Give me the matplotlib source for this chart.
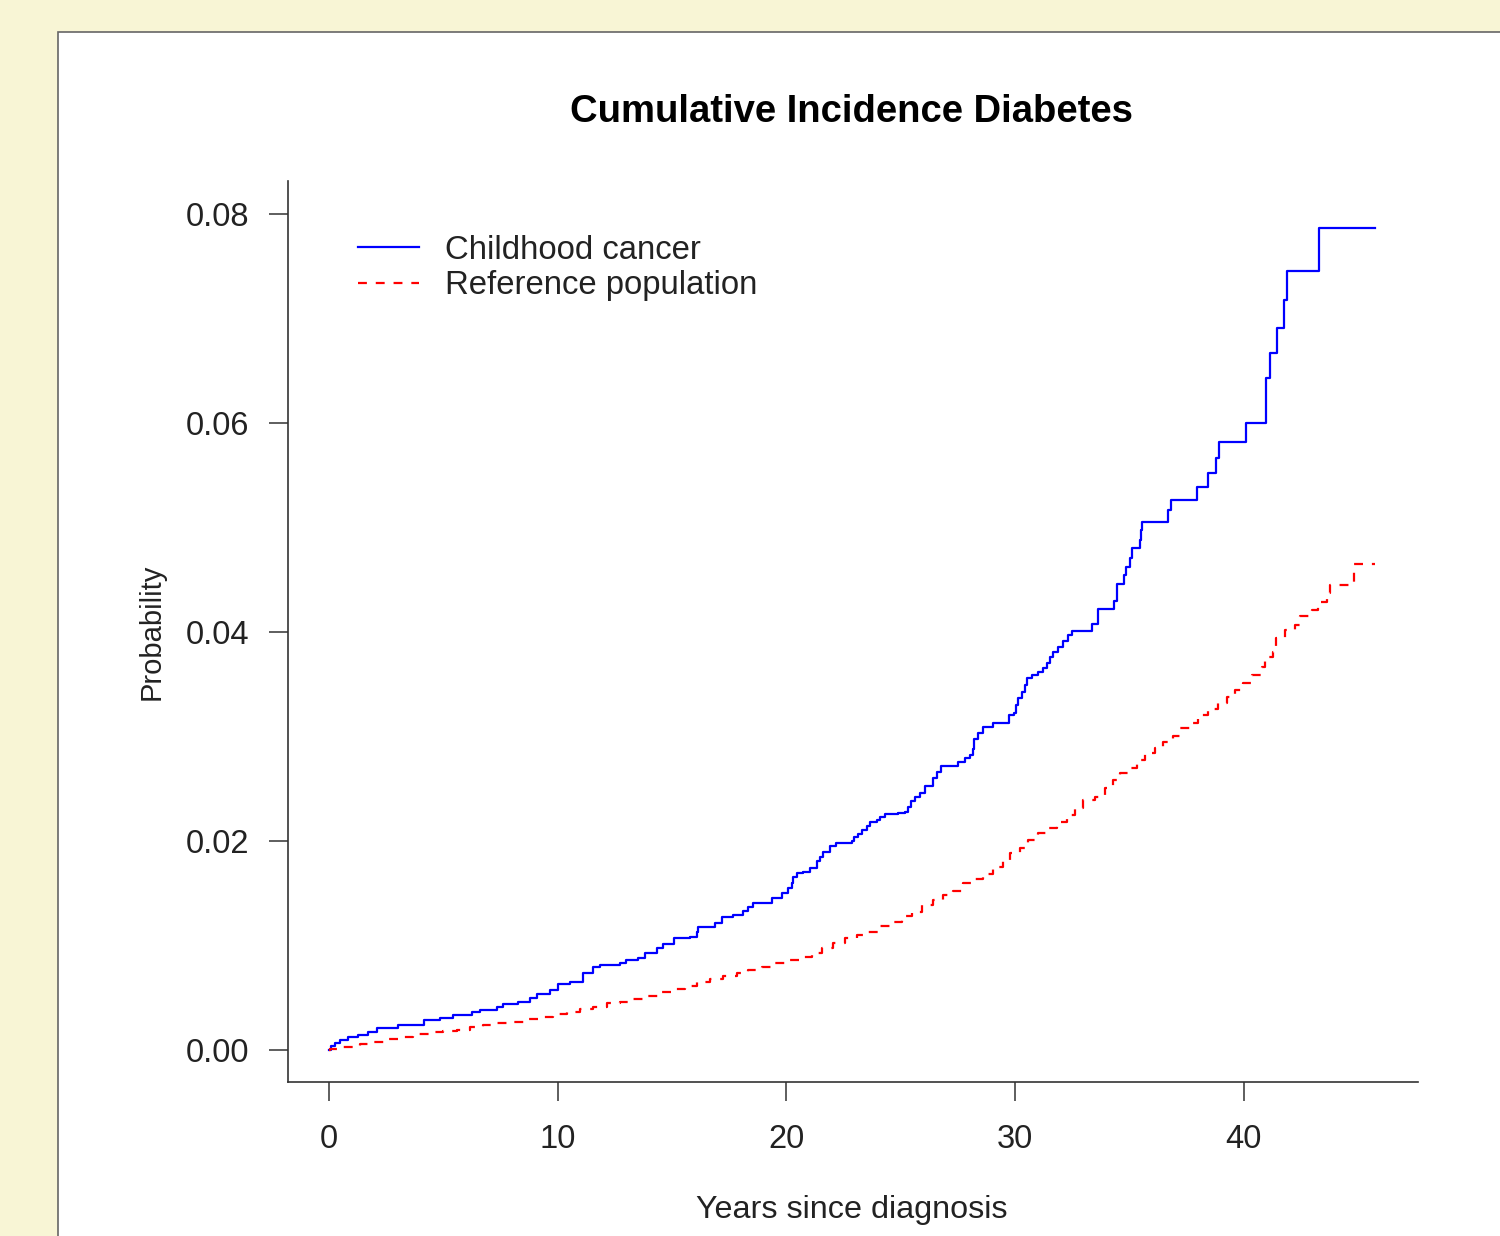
import matplotlib
matplotlib.use("Agg")
import matplotlib.pyplot as plt
from matplotlib.patches import Rectangle
from matplotlib.ticker import FormatStrFormatter

plt.rcParams['font.family'] = ['Liberation Sans', 'DejaVu Sans']

# --- data (years, cumulative probability) ---
cancer_t = [0.0, 0.09, 0.26, 0.48, 0.83, 1.27, 1.71, 2.10, 3.02, 4.15, 4.85, 5.42,
            6.25, 6.60, 7.35, 7.61, 8.26, 8.79, 9.09, 9.66, 10.01, 10.54, 11.11,
            11.54, 11.85, 12.72, 12.99, 13.51, 13.82, 14.34, 14.60, 15.09, 15.78,
            16.09, 16.13, 16.88, 17.18, 17.67, 18.10, 18.32, 18.54, 19.37, 19.81,
            20.07, 20.24, 20.29, 20.46, 20.73, 21.03, 21.34, 21.47, 21.60, 21.91,
            22.17, 22.87, 22.96, 23.13, 23.31, 23.52, 23.66, 23.96, 24.09, 24.31,
            24.88, 25.19, 25.32, 25.45, 25.62, 25.84, 26.06, 26.41, 26.59, 26.76,
            27.50, 27.81, 28.03, 28.16, 28.20, 28.38, 28.60, 29.03, 29.73, 29.95,
            30.04, 30.13, 30.30, 30.43, 30.52, 30.74, 31.00, 31.22, 31.39, 31.53,
            31.66, 31.88, 32.09, 32.31, 32.49, 33.36, 33.62, 34.32, 34.46, 34.76,
            34.85, 35.03, 35.11, 35.46, 35.51, 35.55, 36.69, 36.82, 37.95, 38.43,
            38.78, 38.92, 40.10, 40.97, 41.15, 41.45, 41.76, 41.89, 43.29, 45.74]
cancer_p = [0.0, 0.00038, 0.00067, 0.00096, 0.00124, 0.00144, 0.00172, 0.00211,
            0.00239, 0.00287, 0.00306, 0.00335, 0.00364, 0.00383, 0.00411, 0.00440,
            0.00459, 0.00498, 0.00536, 0.00574, 0.00632, 0.00651, 0.00737, 0.00794,
            0.00813, 0.00833, 0.00861, 0.00880, 0.00928, 0.00976, 0.01014, 0.01072,
            0.01081, 0.01129, 0.01177, 0.01215, 0.01273, 0.01292, 0.01330, 0.01368,
            0.01407, 0.01455, 0.01502, 0.01550, 0.01598, 0.01656, 0.01694, 0.01703,
            0.01742, 0.01809, 0.01847, 0.01895, 0.01952, 0.01981, 0.02000, 0.02038,
            0.02067, 0.02105, 0.02144, 0.02182, 0.02201, 0.02230, 0.02258, 0.02268,
            0.02278, 0.02325, 0.02383, 0.02421, 0.02459, 0.02526, 0.02603, 0.02660,
            0.02718, 0.02756, 0.02794, 0.02823, 0.02880, 0.02976, 0.03033, 0.03091,
            0.03129, 0.03206, 0.03225, 0.03301, 0.03368, 0.03426, 0.03493, 0.03560,
            0.03589, 0.03617, 0.03656, 0.03703, 0.03761, 0.03809, 0.03856, 0.03914,
            0.03971, 0.04010, 0.04077, 0.04220, 0.04297, 0.04459, 0.04545, 0.04622,
            0.04708, 0.04804, 0.04880, 0.04976, 0.05053, 0.05167, 0.05263, 0.05388,
            0.05522, 0.05665, 0.05818, 0.06000, 0.06431, 0.06670, 0.06909, 0.07177,
            0.07455, 0.07866, 0.07866]

ref_t = [0.0, 0.04, 0.57, 1.36, 1.88, 2.54, 3.02, 3.67, 4.42, 4.98, 5.60, 6.17, 6.73,
         7.35, 8.05, 8.57, 9.23, 9.79, 10.41, 10.97, 11.54, 12.16, 12.72, 13.29,
         13.90, 14.47, 15.04, 15.57, 16.09, 16.66, 17.23, 17.84, 18.32, 18.93,
         19.41, 20.03, 20.59, 21.12, 21.56, 22.04, 22.56, 23.09, 23.57, 24.09,
         24.53, 25.05, 25.49, 25.93, 26.41, 26.85, 27.28, 27.72, 28.16, 28.60,
         29.03, 29.47, 29.78, 30.21, 30.56, 31.00, 31.39, 31.83, 32.27, 32.62,
         32.97, 33.49, 33.93, 34.28, 34.59, 35.02, 35.33, 35.68, 36.12, 36.47,
         36.90, 37.21, 37.65, 38.00, 38.43, 38.87, 39.26, 39.62, 39.97, 40.36,
         40.80, 40.93, 41.28, 41.41, 41.80, 42.24, 42.46, 42.98, 43.24, 43.64,
         43.77, 44.82, 45.74]
ref_p = [0.0, 0.00010, 0.00029, 0.00057, 0.00077, 0.00105, 0.00124, 0.00153, 0.00172,
         0.00182, 0.00191, 0.00220, 0.00239, 0.00258, 0.00268, 0.00297, 0.00316,
         0.00344, 0.00364, 0.00392, 0.00411, 0.00450, 0.00459, 0.00490, 0.00517,
         0.00555, 0.00584, 0.00612, 0.00651, 0.00679, 0.00708, 0.00737, 0.00766,
         0.00794, 0.00833, 0.00861, 0.00890, 0.00928, 0.00976, 0.01024, 0.01072,
         0.01100, 0.01129, 0.01187, 0.01225, 0.01282, 0.01321, 0.01388, 0.01435,
         0.01483, 0.01522, 0.01598, 0.01636, 0.01684, 0.01751, 0.01818, 0.01885,
         0.01933, 0.02010, 0.02077, 0.02124, 0.02182, 0.02249, 0.02316, 0.02392,
         0.02421, 0.02507, 0.02584, 0.02651, 0.02699, 0.02775, 0.02842, 0.02890,
         0.02947, 0.03005, 0.03081, 0.03129, 0.03206, 0.03263, 0.03321, 0.03378,
         0.03445, 0.03512, 0.03589, 0.03665, 0.03761, 0.03809, 0.03943, 0.04019,
         0.04067, 0.04153, 0.04211, 0.04287, 0.04373, 0.04450, 0.04651, 0.04651]

x_ticks = [0, 10, 20, 30, 40]
y_ticks = [0.00, 0.02, 0.04, 0.06, 0.08]
labels = ["Childhood cancer", "Reference population"]

# --- figure ---
fig = plt.figure(figsize=(15, 12.36), dpi=100)
fig.patch.set_facecolor('#F8F5D5')

# white slide panel behind the plot
panel = Rectangle((58 / 1500, -0.05), 1.0, 1.05 - 32 / 1236, transform=fig.transFigure,
                  facecolor='white', edgecolor='#666666', linewidth=1.2, zorder=-5)
fig.patches.append(panel)

ax = fig.add_axes([288 / 1500, 1 - 1082 / 1236, (1418 - 288) / 1500, (1082 - 181) / 1236])
ax.set_zorder(2)
ax.set_facecolor('none')

ax.step(cancer_t, cancer_p, where='post', color='#0000FF', lw=1.6, label=labels[0])
ax.step(ref_t, ref_p, where='post', color='#FF0000', lw=1.6, linestyle=(0, (4, 4)),
        label=labels[1])

ax.set_xlim(-1.79, 47.62)
ax.set_ylim(-0.00306, 0.08316)
ax.set_xticks(x_ticks)
ax.set_yticks(y_ticks)
ax.yaxis.set_major_formatter(FormatStrFormatter('%.2f'))

for s in ['top', 'right']:
    ax.spines[s].set_visible(False)
for s in ['left', 'bottom']:
    ax.spines[s].set_color('#333333')
    ax.spines[s].set_linewidth(1.2)

ax.tick_params(axis='both', direction='out', length=14, width=1.1, color='#333333',
               labelsize=23.5, labelcolor='#222222')
ax.tick_params(axis='y', pad=14)
ax.tick_params(axis='x', pad=16)

leg = ax.legend(loc='upper left', bbox_to_anchor=(358 / 1500, 1 - 235 / 1236),
                bbox_transform=fig.transFigure, frameon=False, fontsize=23.7,
                handlelength=1.85, handletextpad=0.8, labelspacing=0.13,
                borderpad=0, borderaxespad=0)
for t in leg.get_texts():
    t.set_color('#222222')

fig.text(852 / 1500, 1 - 112 / 1236, "Cumulative Incidence Diabetes", fontsize=27.5,
         fontweight='bold', ha='center', va='center', color='black')
fig.text(852 / 1500, 1 - 1210 / 1236, "Years since diagnosis", fontsize=23.3,
         ha='center', va='center', color='#222222')
fig.text(152 / 1500, 1 - 632 / 1236, "Probability", fontsize=21, rotation=90,
         ha='center', va='center', color='#222222')

fig.savefig("out.png", dpi=100, facecolor=fig.get_facecolor())
